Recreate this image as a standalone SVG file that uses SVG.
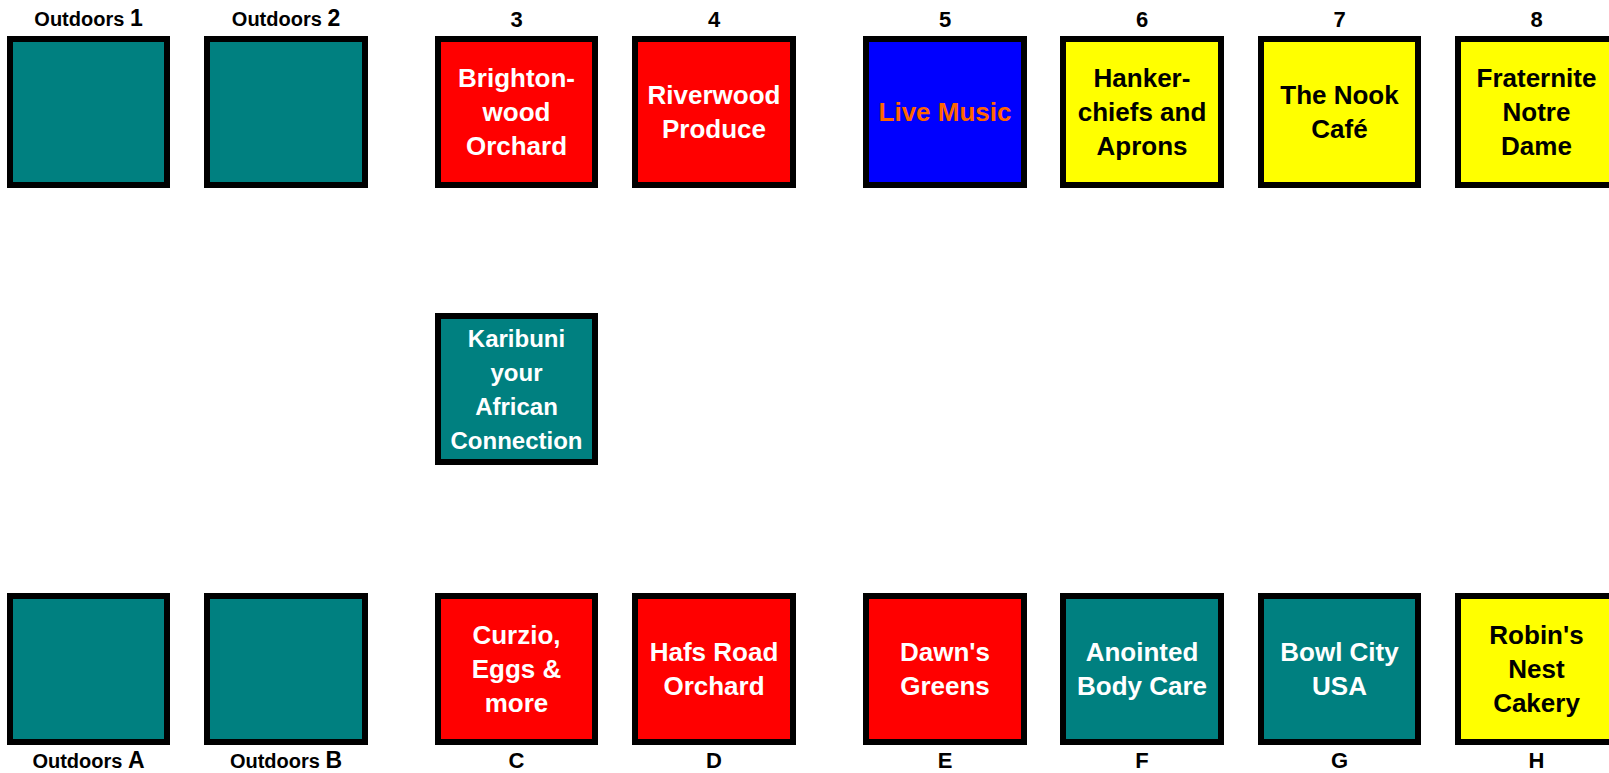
<svg xmlns="http://www.w3.org/2000/svg" width="1609" height="773" viewBox="0 0 1609 773">
<style>
.box{stroke:#000;stroke-width:6}
.teal{fill:#008080}
.red{fill:#FF0000}
.blue{fill:#0000FF}
.yellow{fill:#FFFF00}
text{font-family:"Liberation Sans",Arial,sans-serif;font-weight:bold;text-anchor:middle}
.t{font-size:26px}
.tk{font-size:24px}
.w{fill:#FFFFFF}
.k{fill:#000000}
.o{fill:#FF6600}
.lab{font-size:22px;fill:#000}
.od{font-size:23px}
.sm{font-size:20px}
</style>
<rect width="1609" height="773" fill="#FFFFFF"/>
<g id="connectors"/>
<!-- top row -->
<g id="n1">
<text class="lab od" x="88.5" y="26"><tspan class="sm">Outdoors </tspan>1</text>
<rect class="box teal" x="10" y="39" width="157" height="146"/>
</g>
<g id="n2">
<text class="lab od" x="286" y="26"><tspan class="sm">Outdoors </tspan>2</text>
<rect class="box teal" x="207" y="39" width="158" height="146"/>
</g>
<g id="n3">
<text class="lab" x="516.5" y="27">3</text>
<rect class="box red" x="438" y="39" width="157" height="146"/>
<text class="t w" x="516.5" y="87">Brighton-</text>
<text class="t w" x="516.5" y="121">wood</text>
<text class="t w" x="516.5" y="155">Orchard</text>
</g>
<g id="n4">
<text class="lab" x="714" y="27">4</text>
<rect class="box red" x="635" y="39" width="158" height="146"/>
<text class="t w" x="714" y="104">Riverwood</text>
<text class="t w" x="714" y="138">Produce</text>
</g>
<g id="n5">
<text class="lab" x="945" y="27">5</text>
<rect class="box blue" x="866" y="39" width="158" height="146"/>
<text class="t o" x="945" y="121">Live Music</text>
</g>
<g id="n6">
<text class="lab" x="1142" y="27">6</text>
<rect class="box yellow" x="1063" y="39" width="158" height="146"/>
<text class="t k" x="1142" y="87">Hanker-</text>
<text class="t k" x="1142" y="121">chiefs and</text>
<text class="t k" x="1142" y="155">Aprons</text>
</g>
<g id="n7">
<text class="lab" x="1339.5" y="27">7</text>
<rect class="box yellow" x="1261" y="39" width="157" height="146"/>
<text class="t k" x="1339.5" y="104">The Nook</text>
<text class="t k" x="1339.5" y="138">Café</text>
</g>
<g id="n8">
<text class="lab" x="1536.5" y="27">8</text>
<rect class="box yellow" x="1458" y="39" width="157" height="146"/>
<text class="t k" x="1536.5" y="87">Fraternite</text>
<text class="t k" x="1536.5" y="121">Notre</text>
<text class="t k" x="1536.5" y="155">Dame</text>
</g>
<!-- middle -->
<g id="karibuni">
<rect class="box teal" x="438" y="316" width="157" height="146"/>
<text class="tk w" x="516.5" y="347">Karibuni</text>
<text class="tk w" x="516.5" y="381">your</text>
<text class="tk w" x="516.5" y="415">African</text>
<text class="tk w" x="516.5" y="449">Connection</text>
</g>
<!-- bottom row -->
<g id="nA">
<rect class="box teal" x="10" y="596" width="157" height="146"/>
<text class="lab od" x="88.5" y="768"><tspan class="sm">Outdoors </tspan>A</text>
</g>
<g id="nB">
<rect class="box teal" x="207" y="596" width="158" height="146"/>
<text class="lab od" x="286" y="768"><tspan class="sm">Outdoors </tspan>B</text>
</g>
<g id="nC">
<rect class="box red" x="438" y="596" width="157" height="146"/>
<text class="t w" x="516.5" y="644">Curzio,</text>
<text class="t w" x="516.5" y="678">Eggs &amp;</text>
<text class="t w" x="516.5" y="712">more</text>
<text class="lab" x="516.5" y="768">C</text>
</g>
<g id="nD">
<rect class="box red" x="635" y="596" width="158" height="146"/>
<text class="t w" x="714" y="661">Hafs Road</text>
<text class="t w" x="714" y="695">Orchard</text>
<text class="lab" x="714" y="768">D</text>
</g>
<g id="nE">
<rect class="box red" x="866" y="596" width="158" height="146"/>
<text class="t w" x="945" y="661">Dawn's</text>
<text class="t w" x="945" y="695">Greens</text>
<text class="lab" x="945" y="768">E</text>
</g>
<g id="nF">
<rect class="box teal" x="1063" y="596" width="158" height="146"/>
<text class="t w" x="1142" y="661">Anointed</text>
<text class="t w" x="1142" y="695">Body Care</text>
<text class="lab" x="1142" y="768">F</text>
</g>
<g id="nG">
<rect class="box teal" x="1261" y="596" width="157" height="146"/>
<text class="t w" x="1339.5" y="661">Bowl City</text>
<text class="t w" x="1339.5" y="695">USA</text>
<text class="lab" x="1339.5" y="768">G</text>
</g>
<g id="nH">
<rect class="box yellow" x="1458" y="596" width="157" height="146"/>
<text class="t k" x="1536.5" y="644">Robin's</text>
<text class="t k" x="1536.5" y="678">Nest</text>
<text class="t k" x="1536.5" y="712">Cakery</text>
<text class="lab" x="1536.5" y="768">H</text>
</g>
</svg>
